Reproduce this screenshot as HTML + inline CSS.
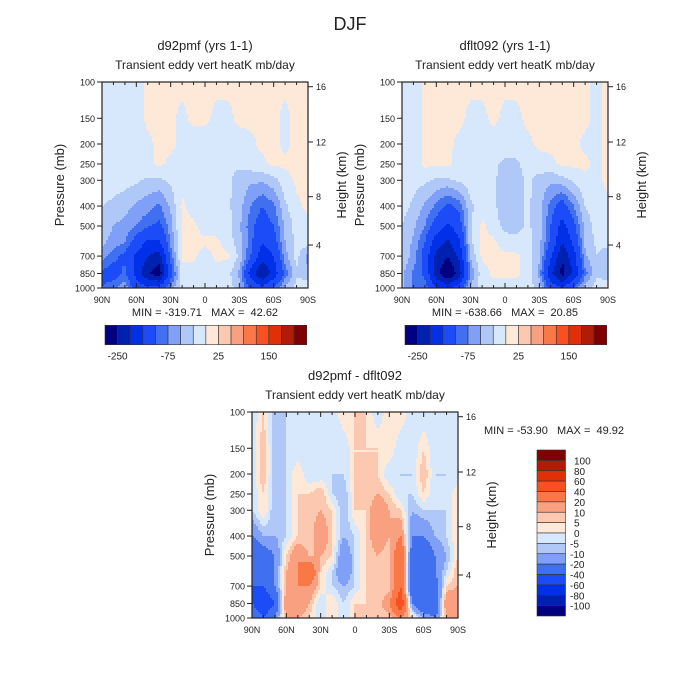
<!DOCTYPE html>
<html><head><meta charset="utf-8">
<style>
html,body{margin:0;padding:0;background:#fff;}
svg{display:block;font-family:"Liberation Sans",sans-serif;}
text{fill:#222;white-space:pre;}
</style></head>
<body>
<svg id="root" width="700" height="700" viewBox="0 0 700 700">
<rect width="700" height="700" fill="#fff"/>
<text x="350" y="30" font-size="18" text-anchor="middle" fill="#444">DJF</text>
</svg>
<script>
// ---- data ----
const lats = [90,80,70,60,50,40,30,20,10,0,-10,-20,-30,-40,-50,-60,-70,-80,-90];
const pressures = [100,150,200,250,300,400,500,600,700,850,1000];
const colors = ["#000080","#0020b0","#0030e8","#1c4cf8","#4070f0","#80a0f8","#b0c8f8","#d8e8fc","#fee8d8","#fcc8b0","#f8a080","#f87848","#f85020","#e03008","#b01c08","#800000"];
const levelsTop = [-250,-200,-150,-100,-75,-50,-25,0,25,50,75,100,150,200,250];
const levelsDiff = [-100,-80,-60,-40,-20,-10,-5,0,5,10,20,40,60,80,100];
const topTickLabels = ["-250","-75","25","150"];
const diffTickLabels = ["100","80","60","40","20","10","5","0","-5","-10","-20","-40","-60","-80","-100"];
const latLabels = ["90N","60N","30N","0","30S","60S","90S"];
const pLabels = [100,150,200,250,300,400,500,700,850,1000];
const heightLabels = ["16","12","8","4"];

const fieldA = [
[-10,-10,-10,-10,5,5,5,5,5,5,5,5,5,5,5,5,5,5,5],
[-10,-10,-10,-10,5,5,5,-5,5,5,-5,-5,5,5,5,5,-5,5,5],
[-10,-10,-10,-10,-5,5,5,-5,-10,-10,-10,-10,-10,-5,5,5,-5,5,5],
[-10,-10,-10,-10,-5,5,-5,-10,-15,-15,-15,-20,-20,-10,-5,5,5,5,5],
[-10,-15,-15,-20,-30,-30,-20,-10,-10,-15,-10,-20,-35,-45,-45,-35,-10,5,5],
[-25,-30,-40,-55,-65,-80,-45,5,-10,-10,-15,-20,-40,-75,-100,-80,-30,-5,5],
[-35,-50,-60,-75,-95,-110,-60,5,5,-10,-10,-15,-45,-90,-120,-100,-45,-15,-5],
[-45,-60,-75,-120,-160,-160,-70,5,5,5,5,-10,-40,-90,-150,-120,-50,-15,-10],
[-60,-90,-110,-160,-200,-220,-90,5,5,-10,5,5,-30,-100,-180,-150,-60,-15,-60],
[-110,-120,-90,-170,-240,-280,-120,-10,-10,-10,-10,-15,-55,-170,-250,-180,-90,-30,-45],
[-100,-80,-60,-120,-140,-130,-70,-10,-10,-10,-10,-10,-40,-110,-130,-100,-45,-15,5]];

const fieldB = [
[-10,-10,5,5,5,5,5,5,5,5,5,5,5,5,5,5,5,-5,5],
[-10,-10,5,5,5,5,-5,-5,5,-5,-5,5,5,5,5,5,5,-5,5],
[-10,-10,5,5,5,-5,-10,-10,-10,-10,-10,-5,5,5,5,5,-5,-5,5],
[-10,-10,5,5,5,-10,-15,-15,-20,-30,-30,-15,-10,-5,5,5,5,-5,5],
[-10,-15,-20,-30,-30,-20,-10,-10,-15,-50,-35,-20,-35,-45,-35,-20,-5,-5,5],
[-15,-30,-55,-80,-110,-90,-30,-10,-15,-50,-35,-20,-40,-85,-120,-75,-25,-10,-5],
[-25,-45,-75,-120,-160,-120,-30,5,-10,-35,-35,-20,-40,-100,-170,-110,-40,-15,-10],
[-30,-55,-100,-180,-210,-160,-30,5,5,-10,-15,-15,-40,-110,-200,-140,-45,-20,-15],
[-30,-60,-120,-210,-250,-190,-45,5,5,5,5,-10,-45,-140,-240,-170,-55,-25,-40],
[-45,-80,-110,-230,-300,-230,-70,-10,5,5,5,-10,-60,-190,-270,-190,-85,-30,-45],
[-45,-80,-85,-150,-170,-120,-45,-10,-10,-10,-10,-15,-30,-120,-150,-95,-40,-15,5]];

const fieldDiff = [
[-5,5,-10,-5,-5,-5,-5,-5,5,5,5,-5,5,5,-5,-5,-5,-5,-5],
[-5,10,-10,-5,-5,-5,-5,-5,-5,5,5,5,5,-5,-5,5,-5,-5,-5],
[-5,10,-10,-5,5,-5,-5,-5,-5,5,5,5,-5,-5,-5,10,-5,-5,-5],
[-5,5,-10,-5,5,5,10,-5,-10,5,5,10,5,-5,-5,5,-5,-5,5],
[-5,5,-10,-5,5,5,10,5,-10,5,5,20,10,5,-10,-5,-5,-5,5],
[-20,-10,-10,-5,5,5,20,5,-10,-5,5,20,10,20,-20,-20,-10,-5,5],
[-40,-30,-20,5,20,10,10,5,-20,-5,5,10,5,40,-30,-40,-20,-10,5],
[-40,-40,-20,10,20,40,5,-5,-20,-5,5,10,5,40,-40,-40,-20,-5,10],
[-40,-40,-20,10,20,20,5,-5,-10,-5,5,5,5,40,-40,-40,-30,5,10],
[-40,-60,-40,20,20,10,-5,5,-5,5,5,5,20,60,-20,-40,-40,20,20],
[-20,-40,-20,10,10,5,-5,5,-5,5,5,5,5,20,5,-10,-20,10,10]];

// ---- rendering ----
const NS="http://www.w3.org/2000/svg";
const root=document.getElementById('root');
function mk(tag,attrs,parent){const e=document.createElementNS(NS,tag);for(const k in attrs)e.setAttribute(k,attrs[k]);(parent||root).appendChild(e);return e;}
const W=206,H=206;
function xOf(x0,lat){return x0+(90-lat)/180*W;}
function yOf(y0,p){return y0+H*Math.log(p/100)/Math.log(10);}
function levelIndex(v,levels){let i=0;while(i<levels.length&&v>=levels[i])i++;return i;}
function sample(field,lat,p){
  let fi=(90-lat)/10; fi=Math.max(0,Math.min(17.9999,fi));
  const i0=Math.floor(fi),tx=fi-i0;
  const lp=Math.log(p);let j0=0;
  while(j0<pressures.length-2&&lp>Math.log(pressures[j0+1]))j0++;
  let ty=(lp-Math.log(pressures[j0]))/(Math.log(pressures[j0+1])-Math.log(pressures[j0]));
  ty=Math.max(0,Math.min(1,ty));
  const a=field[j0][i0],b=field[j0][i0+1],c=field[j0+1][i0],d=field[j0+1][i0+1];
  return (a*(1-tx)+b*tx)*(1-ty)+(c*(1-tx)+d*tx)*ty;
}
function text(x,y,s,size,anchor,name,extra){const t=mk('text',Object.assign({x:x,y:y,'font-size':size,'text-anchor':anchor||'start'},extra||{}));t.textContent=s;


return t;}

function panel(x0,y0,field,levels,title,name){
  const g=mk('g',{});
  
  
  const step=2;
  for(let py=0;py<H;py+=step){
    const p=100*Math.pow(10,(py+step/2)/H);
    let runStart=0,runIdx=-1;
    for(let px=0;px<=W;px+=step){
      let idx=-2;
      if(px<W){const lat=90-(px+step/2)/W*180;idx=levelIndex(sample(field,lat,p),levels);}
      if(idx!==runIdx){
        if(runIdx>=0){const r=mk('rect',{x:x0+runStart,y:y0+py,width:px-runStart+0.3,height:step+0.3,fill:colors[runIdx]},g);
          
          }
        runStart=px;runIdx=idx;
      }
    }
  }
  const fr=mk('rect',{x:x0,y:y0,width:W,height:H,fill:'none',stroke:'#222','stroke-width':1.2});
  
  
  for(let lat=90;lat>=-90;lat-=10){
    const x=xOf(x0,lat);const major=(lat%30===0);const L=major?5:3;
    mk('line',{x1:x,y1:y0+H,x2:x,y2:y0+H-L,stroke:'#222','stroke-width':1});
    mk('line',{x1:x,y1:y0,x2:x,y2:y0+L,stroke:'#222','stroke-width':1});
  }
  latLabels.forEach((s,i)=>{text(xOf(x0,90-30*i),y0+H+15,s,9,'middle','x-tick-label');});
  pLabels.forEach(p=>{const y=yOf(y0,p);mk('line',{x1:x0-5,y1:y,x2:x0,y2:y,stroke:'#222'});
    text(x0-7,y+3.5,String(p),9,'end','y-tick-label');});
  const hOff=[4.7,60,114.7,163];
  heightLabels.forEach((s,i)=>{const y=y0+hOff[i];mk('line',{x1:x0+W,y1:y,x2:x0+W+5,y2:y,stroke:'#222'});
    text(x0+W+8,y+3.5,s,9,'start','height-tick-label');});
  text(x0-38,y0+H/2,'Pressure (mb)',13,'middle','y-axis-title',{transform:`rotate(-90 ${x0-38} ${y0+H/2})`,fill:'#555'});
  text(x0+W+38,y0+H/2,'Height (km)',13,'middle','height-axis-title',{transform:`rotate(-90 ${x0+W+38} ${y0+H/2})`,fill:'#555'});
  text(x0+W/2,y0-32,title,13,'middle','panel-title');
  text(x0+W/2,y0-13,'Transient eddy vert heatK mb/day',12,'middle','panel-subtitle');
}
function hbar(x0,y0){
  const w=201.7/16;
  colors.forEach((c,i)=>{const r=mk('rect',{x:x0+i*w,y:y0,width:w,height:19.4,fill:c,stroke:'#333','stroke-width':0.6});
    
    });
  topTickLabels.forEach((s,k)=>{text(x0+(1+4*k)*w,y0+34,s,10,'middle','colorbar-label');});
}
panel(102,82,fieldA,levelsTop,'d92pmf (yrs 1-1)','panel-d92pmf');
panel(402,82,fieldB,levelsTop,'dflt092 (yrs 1-1)','panel-dflt092');
panel(252,412,fieldDiff,levelsDiff,'d92pmf - dflt092','panel-difference');
text(205,316,'MIN = -319.71   MAX =  42.62',11,'middle','min-max-a');
text(505,316,'MIN = -638.66   MAX =  20.85',11,'middle','min-max-b');
text(484,434,'MIN = -53.90   MAX =  49.92',11,'start','min-max-diff');
hbar(105,325.3);
hbar(405,325.3);
(function(){
  const x0=537,y0=450,h=166/16;
  for(let i=0;i<16;i++){const r=mk('rect',{x:x0,y:y0+i*h,width:28.5,height:h,fill:colors[15-i],stroke:'#333','stroke-width':0.6});
    
    }
  diffTickLabels.forEach((s,i)=>{text(s.startsWith('-')?570:574,y0+(i+1)*h+4,s,10,'start','legend-label');});
})();
</script>
</body></html>
